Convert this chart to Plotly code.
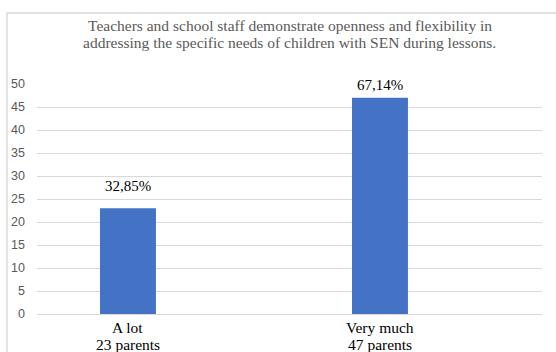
import plotly.graph_objects as go

# Survey answers: number of parents per response and their share
categories = ["A lot", "Very much"]
parents = [23, 47]
shares = ["32,85%", "67,14%"]
tick_labels = [f"{c}<br>{n} parents" for c, n in zip(categories, parents)]
y_ticks = list(range(0, 51, 5))

title_lines = [
    "Teachers and school staff demonstrate openness and flexibility in",
    "addressing the specific needs of children with SEN during lessons.",
]

W, H = 556, 352
L, R, T, B = 37, 14, 84, 38
plot_w, plot_h = W - L - R, H - T - B

serif = "Liberation Serif, Times New Roman, serif"
sans = "Liberation Sans, Arial, sans-serif"

fig = go.Figure(
    go.Bar(
        x=[0, 1],
        y=parents,
        width=0.222,
        marker=dict(color="#4472C4", line=dict(width=0)),
        hoverinfo="skip",
    )
)

# value labels above the bars
label_shift = [22, 13]
for i, (v, s) in enumerate(zip(parents, shares)):
    fig.add_annotation(
        x=i, y=v, text=s, showarrow=False, yanchor="middle",
        yshift=label_shift[i],
        font=dict(family=serif, size=15, color="#000000"),
    )

# two-line title centred over the plot area
for k, line in enumerate(title_lines):
    y_px = 26 + 17 * k
    fig.add_annotation(
        x=0.5, xref="paper", y=(H - B - y_px) / plot_h, yref="paper",
        text=line, showarrow=False, xanchor="center", yanchor="middle",
        font=dict(family=serif, size=15.5, color="#595959"),
    )

# category labels, one annotation per line
for i, (c, n) in enumerate(zip(categories, parents)):
    for k, txt in enumerate([c, f"{n} parents"]):
        y_px = 327 + 17 * k
        fig.add_annotation(
            x=i, y=(H - B - y_px) / plot_h, yref="paper",
            text=txt, showarrow=False, xanchor="center", yanchor="middle",
            font=dict(family=serif, size=15.5, color="#000000"),
        )

# light frame around the chart
fig.add_shape(
    type="rect", xref="paper", yref="paper",
    x0=(7 - L) / plot_w, x1=(W + 10 - L) / plot_w,
    y0=-(B + 10) / plot_h, y1=(H - B - 13) / plot_h,
    line=dict(color="#d9d9d9", width=1.5), fillcolor="rgba(0,0,0,0)",
    layer="below",
)

fig.update_layout(
    template="none",
    width=W, height=H,
    margin=dict(l=L, r=R, t=T, b=B, pad=0),
    paper_bgcolor="white", plot_bgcolor="white",
    showlegend=False,
    xaxis=dict(
        range=[-0.361, 1.643],
        tickmode="array", tickvals=[0, 1], ticktext=["", ""],
        showgrid=False, zeroline=False, showline=False, ticks="",
        automargin=False,
        fixedrange=True,
    ),
    yaxis=dict(
        range=[0, 50],
        tickmode="array", tickvals=y_ticks,
        showgrid=True, gridcolor="#d9d9d9", gridwidth=1.2,
        zeroline=True, zerolinecolor="#d9d9d9", zerolinewidth=1.2,
        showline=False, ticks="",
        tickfont=dict(family=sans, size=12.5, color="#595959"),
        ticklabelstandoff=11,
        automargin=False,
        fixedrange=True,
    ),
)

fig.write_html("out.html")
